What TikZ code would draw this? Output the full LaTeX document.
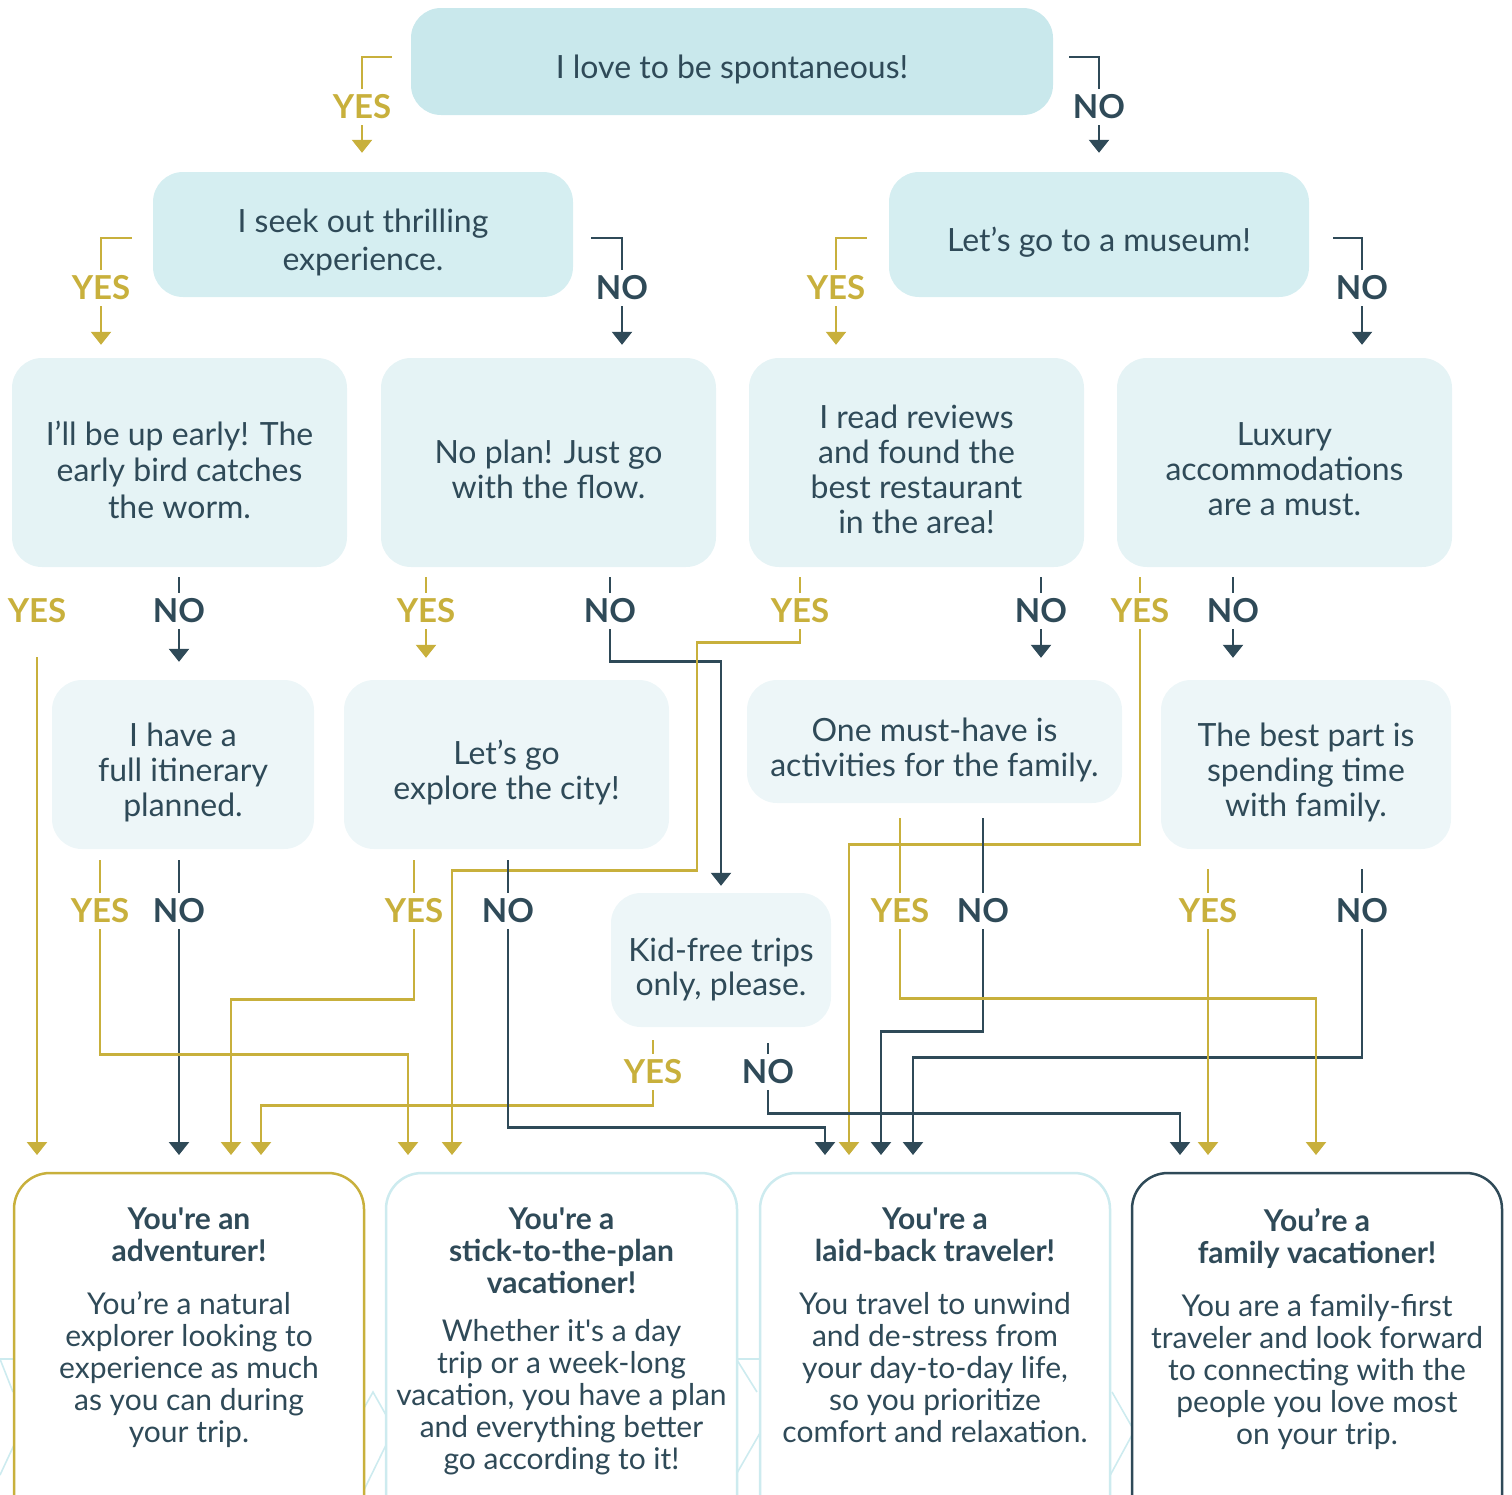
\documentclass[tikz,border=0pt]{standalone}
\usepackage{fontspec}
\setmainfont{Lato}
\usetikzlibrary{arrows.meta,calc}
\definecolor{ink}{HTML}{2F4A58}
\definecolor{gold}{HTML}{C8B03C}
\definecolor{tealA}{HTML}{C9E8EC}
\definecolor{tealB}{HTML}{D5EEF1}
\definecolor{tealC}{HTML}{E5F3F5}
\definecolor{tealD}{HTML}{EDF6F8}
\definecolor{mist}{HTML}{CDEBEF}
\newcommand{\sq}{\textquotesingle}
\tikzset{
qbox/.style={rectangle, rounded corners=30pt, inner sep=0pt},
qtext/.style={inner sep=0pt, align=center, text=ink, font=\fontsize{32}{35}\selectfont},
yeslbl/.style={inner sep=6pt, text=gold, font=\bfseries\fontsize{33}{33}\selectfont},
nolbl/.style={inner sep=6pt, text=ink, font=\bfseries\fontsize{33}{33}\selectfont},
goldln/.style={draw=gold, line width=2.4pt},
inkln/.style={draw=ink, line width=2.4pt},
goldarr/.style={goldln, -{Triangle[width=20pt,length=13pt]}},
inkarr/.style={inkln, -{Triangle[width=20pt,length=13pt]}},
resbox/.style={rectangle, rounded corners=36pt, line width=2.5pt, fill=white, minimum height=380pt},
restext/.style={anchor=north, inner sep=0pt, align=center, text=ink, font=\fontsize{30}{32}\selectfont},
deco/.style={draw=mist, line width=1.6pt}
}
\begin{document}
\begin{tikzpicture}[x=1pt,y=1pt,yscale=-1,xscale=1]
\useasboundingbox (0,0) rectangle (1512,1494);

%Rounded Rect: questions
\node[qbox, fill=tealA, minimum width=642pt, minimum height=107pt] (q1) at (732,61.5) {};
\node[qbox, fill=tealB, minimum width=420pt, minimum height=125pt] (q2) at (363,234.5) {};
\node[qbox, fill=tealB, minimum width=420pt, minimum height=125pt] (q3) at (1099,234.5) {};
\node[qbox, fill=tealC, minimum width=335pt, minimum height=209pt] (q4) at (179.5,462.5) {};
\node[qbox, fill=tealC, minimum width=335pt, minimum height=209pt] (q5) at (548.5,462.5) {};
\node[qbox, fill=tealC, minimum width=335pt, minimum height=209pt] (q6) at (916.5,462.5) {};
\node[qbox, fill=tealC, minimum width=335pt, minimum height=209pt] (q7) at (1284.5,462.5) {};
\node[qbox, fill=tealD, minimum width=262pt, minimum height=169pt] (q8) at (183,764.5) {};
\node[qbox, fill=tealD, minimum width=325pt, minimum height=169pt] (q9) at (506.5,764.5) {};
\node[qbox, fill=tealD, minimum width=375pt, minimum height=123pt] (q10) at (934.5,741.5) {};
\node[qbox, fill=tealD, minimum width=290pt, minimum height=169pt] (q11) at (1306,764.5) {};
\node[qbox, fill=tealD, minimum width=220pt, minimum height=134pt] (q12) at (721,960) {};

% Text Node: questions
\node[qtext] (q1t) at ($(q1)+(0,8)$) {I love to be spontaneous!};
\node[qtext, font=\fontsize{32}{38}\selectfont] (q2t) at ($(q2)+(0,8)$) {I seek out thrilling\\experience.};
\node[qtext] (q3t) at ($(q3)+(0,8)$) {Let’s go to a museum!};
\node[qtext, font=\fontsize{32}{36.5}\selectfont] (q4t) at ($(q4)+(0,7)$) {I’ll be up early! The\\early bird catches\\the worm.};
\node[qtext] (q5t) at ($(q5)+(0,7)$) {No plan! Just go\\with the flow.};
\node[qtext] (q6t) at ($(q6)+(0,7)$) {I read reviews\\and found the\\best restaurant\\in the area!};
\node[qtext] (q7t) at ($(q7)+(0,7)$) {Luxury\\accommodations\\are a must.};
\node[qtext] (q8t) at ($(q8)+(0,8)$) {I have a\\full itinerary\\planned.};
\node[qtext] (q9t) at ($(q9)+(0,8)$) {Let’s go\\explore the city!};
\node[qtext] (q10t) at ($(q10)+(0,8)$) {One must-have is\\activities for the family.};
\node[qtext] (q11t) at ($(q11)+(0,8)$) {The best part is\\spending time\\with family.};
\node[qtext, font=\fontsize{32}{34}\selectfont] (q12t) at ($(q12)+(0,9)$) {Kid-free trips\\only, please.};

% Text Node: answers
\node[yeslbl] (yA) at (362,107) {YES};
\node[nolbl] (nA) at (1099,107) {NO};
\node[yeslbl] (yB1) at (101,288) {YES};
\node[nolbl] (nB1) at (622,288) {NO};
\node[yeslbl] (yB2) at (836,288) {YES};
\node[nolbl] (nB2) at (1362,288) {NO};
\node[yeslbl] (yC1) at (37,611) {YES};
\node[nolbl] (nC1) at (179,611) {NO};
\node[yeslbl] (yC2) at (426,611) {YES};
\node[nolbl] (nC2) at (610,611) {NO};
\node[yeslbl] (yC3) at (800,611) {YES};
\node[nolbl] (nC3) at (1041,611) {NO};
\node[yeslbl] (yC4) at (1140,611) {YES};
\node[nolbl] (nC4) at (1233,611) {NO};
\node[yeslbl] (yD1) at (100,911) {YES};
\node[nolbl] (nD1) at (179,911) {NO};
\node[yeslbl] (yD2) at (414,911) {YES};
\node[nolbl] (nD2) at (508,911) {NO};
\node[yeslbl] (yD3) at (900,911) {YES};
\node[nolbl] (nD3) at (983,911) {NO};
\node[yeslbl] (yD4) at (1208,911) {YES};
\node[nolbl] (nD4) at (1362,911) {NO};
\node[yeslbl] (yK) at (653,1072) {YES};
\node[nolbl] (nK) at (768,1072) {NO};

% arrow ends over the results
\coordinate (in1a) at (37,1155);
\coordinate (in1b) at (179,1155);
\coordinate (in1c) at (231,1155);
\coordinate (in1d) at (261,1155);
\coordinate (in2a) at (408,1155);
\coordinate (in2b) at (452,1155);
\coordinate (in3a) at (825,1155);
\coordinate (in3b) at (849,1155);
\coordinate (in3c) at (881,1155);
\coordinate (in3d) at (913,1155);
\coordinate (in4a) at (1180,1155);
\coordinate (in4b) at (1208,1155);
\coordinate (in4c) at (1316,1155);

%Straight Lines: top brackets
\draw[goldln] ($(q1.west)+(-19,-4.5)$) -| (yA.north);
\draw[inkln] ($(q1.east)+(16,-4.5)$) -| (nA.north);
\draw[goldarr, shorten >=19pt] (yA.south) -- (yA.south |- q2.north);
\draw[inkarr, shorten >=19pt] (nA.south) -- (nA.south |- q3.north);
\draw[goldln] ($(q2.west)+(-21,3.5)$) -| (yB1.north);
\draw[inkln] ($(q2.east)+(18,3.5)$) -| (nB1.north);
\draw[goldln] ($(q3.west)+(-22,3.5)$) -| (yB2.north);
\draw[inkln] ($(q3.east)+(24,3.5)$) -| (nB2.north);
\draw[goldarr, shorten >=13pt] (yB1.south) -- (yB1.south |- q4.north);
\draw[inkarr, shorten >=13pt] (nB1.south) -- (nB1.south |- q5.north);
\draw[goldarr, shorten >=13pt] (yB2.south) -- (yB2.south |- q6.north);
\draw[inkarr, shorten >=13pt] (nB2.south) -- (nB2.south |- q7.north);

%Straight Lines: third row
\draw[inkln, shorten <=10pt] (nC1.north |- q4.south) -- (nC1.north);
\draw[goldln, shorten <=10pt] (yC2.north |- q5.south) -- (yC2.north);
\draw[inkln, shorten <=10pt] (nC2.north |- q5.south) -- (nC2.north);
\draw[goldln, shorten <=10pt] (yC3.north |- q6.south) -- (yC3.north);
\draw[inkln, shorten <=10pt] (nC3.north |- q6.south) -- (nC3.north);
\draw[goldln, shorten <=10pt] (yC4.north |- q7.south) -- (yC4.north);
\draw[inkln, shorten <=10pt] (nC4.north |- q7.south) -- (nC4.north);
\draw[inkarr, shorten >=18pt] (nC1.south) -- (nC1.south |- q8.north);
\draw[goldarr, shorten >=22pt] (yC2.south) -- (yC2.south |- q9.north);
\draw[inkarr, shorten >=22pt] (nC3.south) -- (nC3.south |- q10.north);
\draw[inkarr, shorten >=22pt] (nC4.south) -- (nC4.south |- q11.north);
\draw[inkarr, shorten >=7pt] (nC2.south) -- ++(0,32) -| (q12.north);
\draw[goldarr, shorten <=28pt] (yC1.south) -- (in1a);
\draw[goldarr] (yC3.south) -- ++(0,13) -| ++(-103,228) -| (in2b);
\draw[goldarr] (yC4.south) -- ++(0,215) -| (in3b);

%Straight Lines: fourth row
\draw[goldln, shorten <=11pt] (yD1.north |- q8.south) -- (yD1.north);
\draw[inkln, shorten <=11pt] (nD1.north |- q8.south) -- (nD1.north);
\draw[goldln, shorten <=11pt] (yD2.north |- q9.south) -- (yD2.north);
\draw[inkln, shorten <=11pt] (nD2.north |- q9.south) -- (nD2.north);
\draw[goldln, shorten <=15pt] (yD3.north |- q10.south) -- (yD3.north);
\draw[inkln, shorten <=15pt] (nD3.north |- q10.south) -- (nD3.north);
\draw[goldln, shorten <=20pt] (yD4.north |- q11.south) -- (yD4.north);
\draw[inkln, shorten <=20pt] (nD4.north |- q11.south) -- (nD4.north);
\draw[goldln, shorten <=13pt] (yK.north |- q12.south) -- (yK.north);
\draw[inkln, shorten <=16pt] (nK.north |- q12.south) -- (nK.north);
\draw[inkarr] (nD1.south) -- (in1b);
\draw[goldarr] (yD2.south) -- ++(0,70) -| (in1c);
\draw[goldarr] (yK.south) -- ++(0,15) -| (in1d);
\draw[goldarr] (yD1.south) -- ++(0,125) -| (in2a);
\draw[inkarr] (nD2.south) -- ++(0,198) -| (in3a);
\draw[inkarr] (nD3.south) -- ++(0,102) -| (in3c);
\draw[inkarr] (nD4.south) -- ++(0,128) -| (in3d);
\draw[inkarr] (nK.south) -- ++(0,23) -| (in4a);
\draw[goldarr] (yD4.south) -- (in4b);
\draw[goldarr] (yD3.south) -- ++(0,69) -| (in4c);

%Straight Lines: faint peaks behind the results
\draw[deco] (0,1359) -- (14,1359);
\draw[deco] (0,1359) -- (13,1392);
\draw[deco] (14,1445) -- (0,1475);
\draw[deco] (364,1408) -- (373,1392) -- (386,1415);
\draw[deco] (386,1445) -- (362,1494);
\draw[deco] (737,1359) -- (760,1359);
\draw[deco] (737,1360) -- (757,1392);
\draw[deco] (760,1433) -- (737,1473);
\draw[deco] (1112,1392) -- (1132,1427);
\draw[deco] (1132,1435) -- (1100,1494);

%Rounded Rect: results
\node[resbox, draw=gold, minimum width=350pt] (r1) at (189,1363) {};
\node[resbox, draw=mist, minimum width=351pt] (r2) at (561.5,1363) {};
\node[resbox, draw=mist, minimum width=350pt] (r3) at (935,1363) {};
\node[resbox, draw=ink, minimum width=370pt] (r4) at (1317,1363) {};

% Text Node: results
\node[restext] (t1) at ($(r1.north)+(0,36)$) {\textbf{You\sq re an}\\\textbf{adventurer!}\\[21pt]You’re a natural\\explorer looking to\\experience as much\\as you can during\\your trip.};
\node[restext] (t2) at ($(r2.north)+(0,36)$) {\textbf{You\sq re a}\\\textbf{stick-to-the-plan}\\\textbf{vacationer!}\\[16pt]Whether it\sq s a day\\trip or a week-long\\vacation, you have a plan\\and everything better\\go according to it!};
\node[restext] (t3) at ($(r3.north)+(0,36)$) {\textbf{You\sq re a}\\\textbf{laid-back traveler!}\\[21pt]You travel to unwind\\and de-stress from\\your day-to-day life,\\so you prioritize\\comfort and relaxation.};
\node[restext] (t4) at ($(r4.north)+(0,36)$) {\textbf{You’re a}\\\textbf{family vacationer!}\\[21pt]You are a family-first\\traveler and look forward\\to connecting with the\\people you love most\\on your trip.};
\end{tikzpicture}
\end{document}
